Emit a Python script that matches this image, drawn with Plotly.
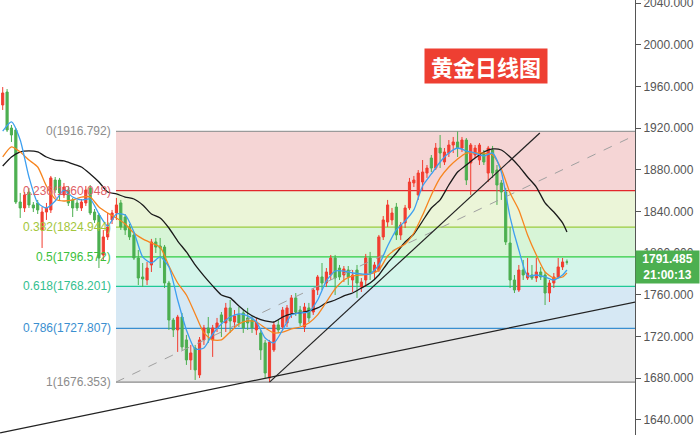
import plotly.graph_objects as go

# ---- daily gold candles (bar index 0 .. 129) ----
OPEN = [1942.2, 1954.6, 1920.1, 1918.2, 1849.1, 1843.4, 1858.7, 1846.3, 1848.2, 1822.3,
        1839.5, 1841.5, 1870.2, 1870.2, 1855.9, 1860.6, 1851.1, 1848.2, 1843.4, 1848.2,
        1862.6, 1839.5, 1836.6, 1798.3, 1815.6, 1831.9, 1838.6, 1848.2, 1834.7, 1825.2,
        1817.5, 1795.4, 1777.2, 1774.3, 1788.7, 1810.8, 1806.9, 1805.9, 1771.4, 1735.9,
        1726.4, 1738.8, 1716.8, 1697.6, 1709.1, 1683.2, 1716.8, 1728.3, 1716.8, 1728.3,
        1740.8, 1733.1, 1747.5, 1734.0, 1740.8, 1742.7, 1737.9, 1735.9, 1726.4, 1723.5,
        1713.9, 1680.3, 1707.2, 1731.2, 1729.2, 1733.1, 1742.7, 1757.1, 1745.5, 1729.2,
        1747.5, 1743.6, 1764.7, 1777.2, 1771.4, 1779.1, 1795.4, 1785.8, 1779.1, 1783.9,
        1774.3, 1783.9, 1767.6, 1774.3, 1795.4, 1782.0, 1783.9, 1815.6, 1829.9, 1831.9,
        1844.3, 1817.5, 1829.0, 1843.4, 1867.4, 1855.9, 1868.3, 1876.9, 1891.3, 1881.7,
        1900.9, 1887.5, 1896.1, 1903.8, 1906.7, 1900.9, 1908.6, 1886.5, 1894.2, 1889.4,
        1896.1, 1876.9, 1899.0, 1879.8, 1867.4, 1858.7, 1809.8, 1774.3, 1764.7, 1783.9,
        1776.2, 1779.1, 1776.2, 1782.0, 1779.1, 1761.8, 1771.4, 1777.2, 1786.8, 1791.6]

HIGH = [1959.4, 1957.5, 1923.0, 1920.1, 1857.8, 1858.7, 1862.6, 1849.1, 1851.1, 1844.3,
        1848.2, 1874.1, 1873.1, 1872.2, 1867.4, 1864.5, 1853.0, 1851.1, 1852.0, 1864.5,
        1865.4, 1842.4, 1838.6, 1822.3, 1838.6, 1841.5, 1853.0, 1851.1, 1837.6, 1828.0,
        1820.4, 1803.1, 1790.6, 1791.6, 1813.7, 1814.6, 1814.6, 1807.9, 1773.4, 1737.9,
        1740.8, 1742.7, 1721.6, 1712.0, 1712.0, 1719.6, 1731.2, 1738.8, 1731.2, 1737.9,
        1743.6, 1752.3, 1755.1, 1745.5, 1748.4, 1745.5, 1747.5, 1739.8, 1737.9, 1726.4,
        1716.8, 1716.8, 1734.0, 1735.9, 1748.4, 1750.3, 1759.9, 1761.8, 1749.4, 1752.3,
        1752.3, 1766.6, 1779.1, 1790.6, 1785.8, 1798.3, 1798.3, 1788.7, 1787.7, 1787.7,
        1783.9, 1788.7, 1776.2, 1799.3, 1801.2, 1791.6, 1817.5, 1835.7, 1851.1, 1843.4,
        1848.2, 1829.9, 1846.3, 1872.2, 1874.1, 1879.8, 1889.4, 1884.6, 1894.2, 1905.7,
        1913.4, 1900.9, 1908.6, 1911.5, 1916.792, 1911.5, 1910.5, 1905.7, 1903.8, 1905.7,
        1899.0, 1902.9, 1902.9, 1884.6, 1870.2, 1862.6, 1825.2, 1779.1, 1788.7, 1793.5,
        1795.4, 1788.7, 1795.4, 1786.8, 1782.0, 1774.3, 1781.0, 1795.4, 1795.4, 1794.0]

LOW = [1937.4, 1916.3, 1906.7, 1847.2, 1833.8, 1839.5, 1843.4, 1839.5, 1837.6, 1805.0,
       1831.9, 1838.6, 1857.8, 1851.1, 1853.0, 1845.3, 1834.7, 1840.5, 1840.5, 1845.3,
       1836.6, 1829.0, 1785.8, 1793.5, 1812.7, 1828.0, 1831.9, 1822.3, 1817.5, 1812.7,
       1793.5, 1769.5, 1767.6, 1769.5, 1782.0, 1800.2, 1785.8, 1766.6, 1726.4, 1719.6,
       1705.3, 1707.2, 1692.8, 1688.0, 1678.4, 1680.3, 1712.0, 1713.9, 1700.5, 1724.4,
       1719.6, 1724.4, 1723.5, 1728.3, 1729.2, 1723.5, 1726.4, 1723.5, 1721.6, 1697.6,
       1680.3, 1676.353, 1705.3, 1723.5, 1726.4, 1729.2, 1737.9, 1739.8, 1730.2, 1724.4,
       1734.0, 1740.8, 1759.9, 1764.7, 1767.6, 1774.3, 1759.9, 1774.3, 1772.4, 1769.5,
       1762.8, 1757.1, 1762.8, 1767.6, 1774.3, 1774.3, 1782.0, 1812.7, 1825.2, 1827.1,
       1812.7, 1812.7, 1824.2, 1841.5, 1863.5, 1851.1, 1860.6, 1872.2, 1877.9, 1879.8,
       1881.7, 1884.6, 1892.3, 1896.1, 1892.3, 1897.1, 1865.4, 1855.9, 1891.3, 1884.6,
       1884.6, 1868.3, 1872.2, 1846.3, 1851.1, 1807.9, 1766.6, 1761.8, 1762.8, 1774.3,
       1774.3, 1774.3, 1772.4, 1774.3, 1750.3, 1753.2, 1766.6, 1776.2, 1783.9, 1789.0]

CLOSE = [1953.7, 1918.2, 1913.4, 1849.1, 1843.4, 1855.9, 1846.3, 1843.4, 1841.5, 1839.5,
         1843.4, 1872.2, 1860.6, 1857.8, 1863.5, 1848.2, 1843.4, 1843.4, 1849.1, 1860.6,
         1838.6, 1831.9, 1795.4, 1815.6, 1825.2, 1838.6, 1846.3, 1825.2, 1822.3, 1815.6,
         1795.4, 1776.2, 1775.3, 1785.8, 1810.8, 1805.9, 1805.0, 1771.4, 1735.9, 1726.4,
         1738.8, 1710.1, 1697.6, 1704.3, 1688.0, 1716.8, 1728.3, 1723.5, 1728.3, 1733.1,
         1734.0, 1747.5, 1735.0, 1739.8, 1733.1, 1728.3, 1733.1, 1728.3, 1734.0, 1707.2,
         1685.1, 1714.8, 1731.2, 1726.4, 1745.5, 1747.5, 1757.1, 1743.6, 1733.1, 1748.4,
         1737.9, 1764.7, 1777.2, 1771.4, 1782.0, 1795.4, 1776.2, 1777.2, 1784.9, 1777.2,
         1779.1, 1771.4, 1772.4, 1795.4, 1781.0, 1788.7, 1815.6, 1831.9, 1846.3, 1838.6,
         1817.5, 1827.1, 1843.4, 1868.3, 1870.2, 1876.9, 1877.9, 1881.7, 1881.7, 1900.9,
         1896.1, 1897.1, 1903.8, 1906.7, 1900.9, 1908.6, 1870.2, 1903.8, 1900.9, 1903.8,
         1887.5, 1900.9, 1876.9, 1865.4, 1858.7, 1810.8, 1774.3, 1764.7, 1783.9, 1779.1,
         1781.0, 1776.2, 1782.0, 1777.2, 1761.8, 1771.4, 1777.2, 1786.8, 1791.6, 1791.485]

BAR_INDEX = list(range(len(CLOSE)))

# ---- moving averages, sampled every second bar ----
MA_INDEX = list(range(0, 129, 2)) + [129]
MA_FAST = [1917.2, 1925.9, 1908.6, 1873.1, 1848.2, 1843.4, 1850.1, 1860.6, 1853.9, 1851.1,
           1852.0, 1837.6, 1826.1, 1837.6, 1836.6, 1820.4, 1796.4, 1790.6, 1796.4, 1786.8,
           1755.1, 1726.4, 1708.1, 1709.1, 1722.5, 1732.1, 1738.8, 1741.7, 1739.8, 1734.0,
           1718.7, 1713.9, 1726.4, 1740.8, 1742.7, 1743.6, 1755.1, 1773.4, 1782.9, 1782.9,
           1781.0, 1780.1, 1780.1, 1788.7, 1806.9, 1822.3, 1830.9, 1841.5, 1864.5, 1876.0,
           1887.5, 1896.1, 1900.9, 1898.1, 1896.1, 1893.3, 1896.1, 1877.9, 1834.7, 1803.1,
           1778.2, 1779.1, 1777.2, 1774.3, 1779.1, 1783.9]
MA_MID = [1892.3, 1901.9, 1897.1, 1889.4, 1882.7, 1864.5, 1852.0, 1850.1, 1851.1, 1853.9,
          1853.9, 1844.3, 1838.6, 1833.8, 1828.0, 1819.4, 1813.7, 1809.8, 1805.9, 1787.7,
          1771.4, 1759.9, 1741.7, 1723.5, 1716.8, 1716.8, 1724.4, 1732.1, 1735.0, 1734.0,
          1728.3, 1723.5, 1724.4, 1727.3, 1729.2, 1733.1, 1740.8, 1753.2, 1765.7, 1774.3,
          1778.2, 1779.1, 1780.1, 1783.9, 1797.3, 1804.0, 1808.8, 1819.4, 1836.6, 1855.9,
          1872.2, 1882.7, 1890.4, 1896.1, 1896.1, 1896.1, 1894.2, 1880.8, 1857.8, 1841.5,
          1817.5, 1798.3, 1782.0, 1776.2, 1777.2, 1781.0]
MA_SLOW = [1883.6, 1892.3, 1897.1, 1898.1, 1897.1, 1892.3, 1889.4, 1888.5, 1885.6, 1882.7,
           1876.0, 1868.3, 1858.7, 1856.8, 1853.9, 1852.0, 1846.3, 1837.6, 1833.8, 1824.2,
           1811.7, 1801.2, 1788.7, 1778.2, 1768.6, 1759.9, 1757.1, 1749.4, 1742.7, 1737.9,
           1735.0, 1734.0, 1738.8, 1741.7, 1742.7, 1744.6, 1747.5, 1752.3, 1755.1, 1759.0,
           1761.8, 1766.6, 1771.4, 1779.1, 1790.6, 1800.2, 1810.8, 1818.4, 1830.9, 1843.4,
           1851.1, 1865.4, 1877.9, 1884.6, 1891.3, 1897.1, 1900.0, 1899.0, 1892.3, 1883.6,
           1873.1, 1863.5, 1848.2, 1839.5, 1829.0, 1820.4]

# ---- Fibonacci retracement ----
FIB_RATIOS = ["0", "0.236", "0.382", "0.5", "0.618", "0.786", "1"]
FIB_PRICES = [1916.792, 1860.048, 1824.944, 1796.572, 1768.201, 1727.807, 1676.353]
FIB_START = 25.9    # bar index of the tool's left anchor
FIB_END = 146.4     # bar index of the tool's right anchor
FIB_LINE_COLORS = ["#9a9a9a", "#e3262b", "#9acb3c", "#2ecc40", "#20c997", "#3a8fd0", "#8a8a8a"]
FIB_TEXT_COLORS = ["#8c8c8c", "#e06066", "#a3c63b", "#3cbf3c", "#33c08f", "#3a8fd0", "#8c8c8c"]
FIB_BAND_COLORS = ["#f5d5d5", "#ebf5d8", "#d7f5d7", "#d4f5ea", "#d6e8f4", "#e6e6e6"]

# ---- hand-drawn trend lines ----
TREND_STEEP_X = [61, 122.8]
TREND_STEEP_Y = [1676.353, 1915.3]
TREND_LONG_X = [-0.6, 144.6]
TREND_LONG_Y = [1627.6, 1753.2]

Y_TICKS = [1640, 1680, 1720, 1760, 1800, 1840, 1880, 1920, 1960, 2000, 2040]
X_RANGE = [-0.62, 144.56]
Y_RANGE = [1625.6, 2042.9]
LAST_PRICE = 1791.485
COUNTDOWN = "21:00:13"
TITLE = "黄金日线图"

UP = "#f23d30"
DOWN = "#4caf50"
FONT = "Liberation Sans, Arial, sans-serif"

fig = go.Figure()

fig.add_trace(go.Candlestick(
    x=BAR_INDEX, open=OPEN, high=HIGH, low=LOW, close=CLOSE,
    increasing=dict(line=dict(color=UP, width=1), fillcolor=UP),
    decreasing=dict(line=dict(color=DOWN, width=1), fillcolor=DOWN),
    whiskerwidth=0, hoverinfo="skip", showlegend=False,
))

# retracement diagonal between the two anchors
fig.add_trace(go.Scatter(
    x=[FIB_START, FIB_END], y=[FIB_PRICES[-1], FIB_PRICES[0]], mode="lines",
    line=dict(color="#a0a0a0", width=1, dash="dash"), hoverinfo="skip", showlegend=False,
))

for ys, color in ((MA_SLOW, "#1a1a1a"), (MA_MID, "#f7851f"), (MA_FAST, "#3d9ff0")):
    fig.add_trace(go.Scatter(
        x=MA_INDEX, y=ys, mode="lines", line=dict(color=color, width=1.3, shape="spline", smoothing=0.6),
        hoverinfo="skip", showlegend=False,
    ))

for xs, ys in ((TREND_STEEP_X, TREND_STEEP_Y), (TREND_LONG_X, TREND_LONG_Y)):
    fig.add_trace(go.Scatter(
        x=xs, y=ys, mode="lines", line=dict(color="#222222", width=1.2),
        hoverinfo="skip", showlegend=False,
    ))

shapes = []
for k in range(len(FIB_BAND_COLORS)):
    shapes.append(dict(type="rect", xref="x", yref="y", x0=FIB_START, x1=X_RANGE[1],
                       y0=FIB_PRICES[k + 1], y1=FIB_PRICES[k],
                       fillcolor=FIB_BAND_COLORS[k], line=dict(width=0), layer="below"))
for price, color in zip(FIB_PRICES, FIB_LINE_COLORS):
    shapes.append(dict(type="line", xref="x", yref="y", x0=FIB_START, x1=X_RANGE[1],
                       y0=price, y1=price, line=dict(color=color, width=1.2), layer="below"))

annotations = []
for ratio, price, color in zip(FIB_RATIOS, FIB_PRICES, FIB_TEXT_COLORS):
    annotations.append(dict(x=FIB_START, y=price, xref="x", yref="y", xanchor="right",
                            yanchor="middle", xshift=-3, showarrow=False,
                            text=f"{ratio}({price:.3f})",
                            font=dict(family=FONT, size=12, color=color)))

annotations.append(dict(x=0.766, y=0.848, xref="paper", yref="paper", xanchor="center",
                        yanchor="middle", showarrow=False,
                        text=f"&nbsp;<b>{TITLE}</b>&nbsp;",
                        font=dict(family="Noto Sans CJK SC", size=22, color="white"),
                        bgcolor="#ee3f32", borderpad=1))

# last-price tag on the price scale (it sits over the 1800 tick label)
annotations.append(dict(x=1, y=LAST_PRICE, xref="paper", yref="y", xanchor="left",
                        yanchor="middle", yshift=-5, showarrow=False, align="center",
                        text=f"<b>{LAST_PRICE:.3f}</b><br><b>{COUNTDOWN}</b>",
                        font=dict(family=FONT, size=12, color="white"),
                        bgcolor=DOWN, width=61, borderpad=1))

fig.update_layout(
    width=700, height=435,
    margin=dict(l=0, r=65, t=0, b=0, autoexpand=False),
    paper_bgcolor="white", plot_bgcolor="white",
    shapes=shapes, annotations=annotations,
    showlegend=False, hovermode=False,
    xaxis=dict(range=X_RANGE, visible=False, rangeslider=dict(visible=False), fixedrange=True),
    yaxis=dict(range=Y_RANGE, side="right", tickvals=Y_TICKS, tickformat=".3f",
               ticks="outside", ticklen=5, tickcolor="#555555", showline=True,
               linecolor="#555555", linewidth=1, showgrid=False, zeroline=False,
               ticklabeloverflow="allow", automargin=False,
               tickfont=dict(family=FONT, size=12, color="#555555"), fixedrange=True),
)

fig.write_html("out.html")
